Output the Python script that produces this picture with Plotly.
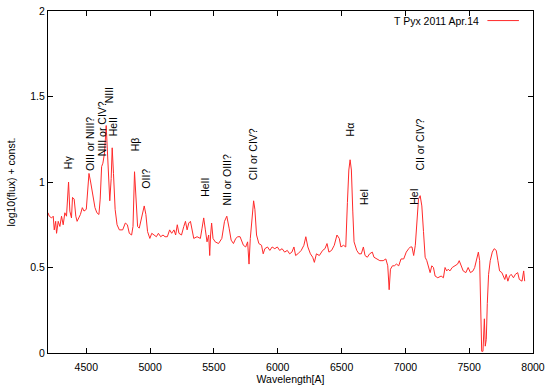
import plotly.graph_objects as go

# Spectrum of T Pyx
wavelength = [
    4200, 4210, 4228, 4241, 4249, 4260, 4267, 4280, 4293, 4306, 4319, 4332, 4345, 4361, 4371, 4384,
    4392, 4405, 4418, 4428, 4441, 4454, 4469, 4482, 4500, 4521, 4534, 4552, 4568, 4583, 4599, 4609,
    4620, 4630, 4643, 4656, 4666, 4677, 4684, 4695, 4703, 4713, 4726, 4741, 4759, 4785, 4806, 4822,
    4837, 4855, 4866, 4878, 4889, 4902, 4915, 4928, 4941, 4954, 4967, 4980, 4998, 5013, 5031, 5049,
    5065, 5083, 5101, 5117, 5135, 5153, 5169, 5187, 5200, 5213, 5226, 5246, 5264, 5277, 5290, 5303,
    5316, 5329, 5342, 5368, 5394, 5407, 5420, 5433, 5446, 5459, 5467, 5474, 5482, 5493, 5510, 5536,
    5562, 5583, 5601, 5619, 5635, 5653, 5671, 5687, 5705, 5731, 5749, 5764, 5775, 5785, 5800, 5811,
    5821, 5834, 5852, 5873, 5886, 5899, 5920, 5938, 5956, 5977, 5997, 6015, 6034, 6054, 6075, 6093,
    6111, 6127, 6140, 6158, 6184, 6205, 6220, 6236, 6256, 6274, 6287, 6303, 6326, 6352, 6370, 6386,
    6401, 6422, 6443, 6464, 6482, 6495, 6515, 6533, 6546, 6557, 6567, 6577, 6588, 6598, 6619, 6637,
    6655, 6671, 6684, 6702, 6720, 6741, 6754, 6774, 6800, 6826, 6847, 6862, 6873, 6883, 6899, 6914,
    6930, 6948, 6966, 6987, 7007, 7026, 7039, 7052, 7065, 7078, 7090, 7103, 7116, 7129, 7142, 7155,
    7168, 7181, 7194, 7207, 7220, 7233, 7254, 7280, 7298, 7311, 7324, 7336, 7349, 7367, 7388, 7409,
    7422, 7440, 7453, 7474, 7492, 7510, 7530, 7543, 7556, 7572, 7582, 7590, 7598, 7608, 7613, 7619,
    7626, 7634, 7642, 7652, 7665, 7681, 7696, 7712, 7725, 7738, 7756, 7769, 7779, 7790, 7803, 7816,
    7829, 7847, 7862, 7880, 7893, 7914, 7927, 7935,
]
log_flux = [
    0.82, 0.80, 0.79, 0.80, 0.72, 0.77, 0.70, 0.77, 0.74, 0.80, 0.75, 0.82, 0.80, 1.00, 0.83, 0.79,
    0.91, 0.90, 0.80, 0.77, 0.79, 0.81, 0.85, 0.83, 0.84, 1.05, 1.00, 0.92, 0.85, 0.82, 0.81, 0.90,
    1.09, 1.11, 1.17, 1.33, 1.19, 0.98, 0.89, 1.02, 1.20, 1.05, 0.84, 0.75, 0.72, 0.72, 0.76, 0.75,
    0.70, 0.69, 0.74, 1.06, 0.92, 0.74, 0.73, 0.77, 0.82, 0.86, 0.81, 0.71, 0.67, 0.70, 0.69, 0.68,
    0.70, 0.68, 0.69, 0.68, 0.68, 0.72, 0.70, 0.72, 0.69, 0.75, 0.70, 0.69, 0.74, 0.77, 0.72, 0.76,
    0.77, 0.71, 0.67, 0.68, 0.67, 0.73, 0.79, 0.72, 0.65, 0.69, 0.57, 0.69, 0.76, 0.67, 0.65, 0.64,
    0.67, 0.77, 0.80, 0.73, 0.66, 0.64, 0.67, 0.68, 0.68, 0.63, 0.62, 0.65, 0.52, 0.67, 0.83, 0.89,
    0.84, 0.69, 0.64, 0.63, 0.58, 0.61, 0.62, 0.60, 0.62, 0.61, 0.62, 0.60, 0.61, 0.59, 0.60, 0.58,
    0.59, 0.62, 0.57, 0.58, 0.60, 0.63, 0.68, 0.62, 0.58, 0.56, 0.53, 0.58, 0.57, 0.60, 0.61, 0.64,
    0.59, 0.60, 0.63, 0.69, 0.67, 0.62, 0.63, 0.62, 0.88, 1.07, 1.13, 1.07, 0.83, 0.65, 0.60, 0.58,
    0.58, 0.62, 0.57, 0.56, 0.58, 0.59, 0.56, 0.55, 0.54, 0.54, 0.55, 0.51, 0.37, 0.49, 0.51, 0.51,
    0.52, 0.51, 0.55, 0.55, 0.59, 0.61, 0.62, 0.62, 0.57, 0.63, 0.77, 0.90, 0.92, 0.86, 0.71, 0.56,
    0.54, 0.50, 0.47, 0.51, 0.50, 0.45, 0.44, 0.45, 0.44, 0.50, 0.48, 0.49, 0.48, 0.50, 0.51, 0.52,
    0.54, 0.51, 0.48, 0.47, 0.50, 0.47, 0.48, 0.50, 0.55, 0.59, 0.54, 0.29, 0.01, 0.01, 0.19, 0.20,
    0.04, 0.08, 0.29, 0.46, 0.54, 0.59, 0.61, 0.60, 0.54, 0.48, 0.47, 0.45, 0.43, 0.46, 0.42, 0.45,
    0.46, 0.44, 0.46, 0.47, 0.43, 0.42, 0.48, 0.42,
]

# Line identifications: text, wavelength, level (bottom of rotated text)
line_labels = ["H\u03b3", "OIII or NIII?", "NIII or CIV?", "NIII", "HeII", "H\u03b2", "OII?",
               "HeII", "NII or OIII?", "CII or CIV?", "H\u03b1", "HeI", "HeI", "CII or CIV?"]
line_wl = [4359, 4534, 4620, 4680, 4705, 4884, 4961, 5424, 5602, 5808, 6566, 6678, 7067, 7114]
line_level = [1.065, 1.05, 1.14, 1.45, 1.255, 1.17, 0.95, 0.90, 0.85, 1.0, 1.255, 0.855, 0.855, 1.055]

series_name = "T Pyx 2011 Apr.14"
x_ticks = [4500, 5000, 5500, 6000, 6500, 7000, 7500, 8000]
y_ticks = [0, 0.5, 1, 1.5, 2]
y_tick_text = ["0", "0.5", "1", "1.5", "2"]

FONT = "Liberation Sans, Arial, Helvetica, sans-serif"
RED = "#ff2a2a"

fig = go.Figure()
fig.add_trace(go.Scatter(x=wavelength, y=log_flux, mode="lines", name=series_name,
                         line=dict(color=RED, width=1), showlegend=False, cliponaxis=False))

for txt, xw, yl in zip(line_labels, line_wl, line_level):
    fig.add_annotation(x=xw, y=yl, text=txt, textangle=-90, showarrow=False,
                       xanchor="center", yanchor="bottom",
                       font=dict(family=FONT, size=10.5, color="black"))

# gnuplot-style key: text then line sample on its right
fig.add_annotation(x=0.892, y=0.972, xref="paper", yref="paper", text=series_name,
                   showarrow=False, xanchor="right", yanchor="middle",
                   font=dict(family=FONT, size=10.5, color="black"))
fig.add_shape(type="line", xref="paper", yref="paper", x0=0.906, x1=0.971, y0=0.972, y1=0.972,
              line=dict(color=RED, width=1))

axis_common = dict(showline=True, linecolor="black", linewidth=1, mirror="ticks",
                   ticks="inside", ticklen=5, tickcolor="black", showgrid=False, zeroline=False,
                   ticklabeloverflow="allow",
                   tickfont=dict(family=FONT, size=10.5, color="black"))

fig.update_xaxes(range=[4200, 8000], tickvals=x_ticks, ticklabelstandoff=4,
                 title=dict(text="Wavelength[A]", font=dict(family=FONT, size=10.5, color="black"),
                            standoff=4),
                 **axis_common)
fig.update_yaxes(range=[0, 2], tickvals=y_ticks, ticktext=y_tick_text,
                 title=dict(text="log10(flux) + const.", font=dict(family=FONT, size=10.5, color="black"),
                            standoff=12),
                 **axis_common)

fig.update_layout(width=550, height=389, margin=dict(l=48, r=13, t=5, b=35),
                  paper_bgcolor="white", plot_bgcolor="white", showlegend=False)

fig.write_html("out.html", config={"displayModeBar": False},
               post_script="document.body.style.margin='0';document.body.style.padding='0';")
